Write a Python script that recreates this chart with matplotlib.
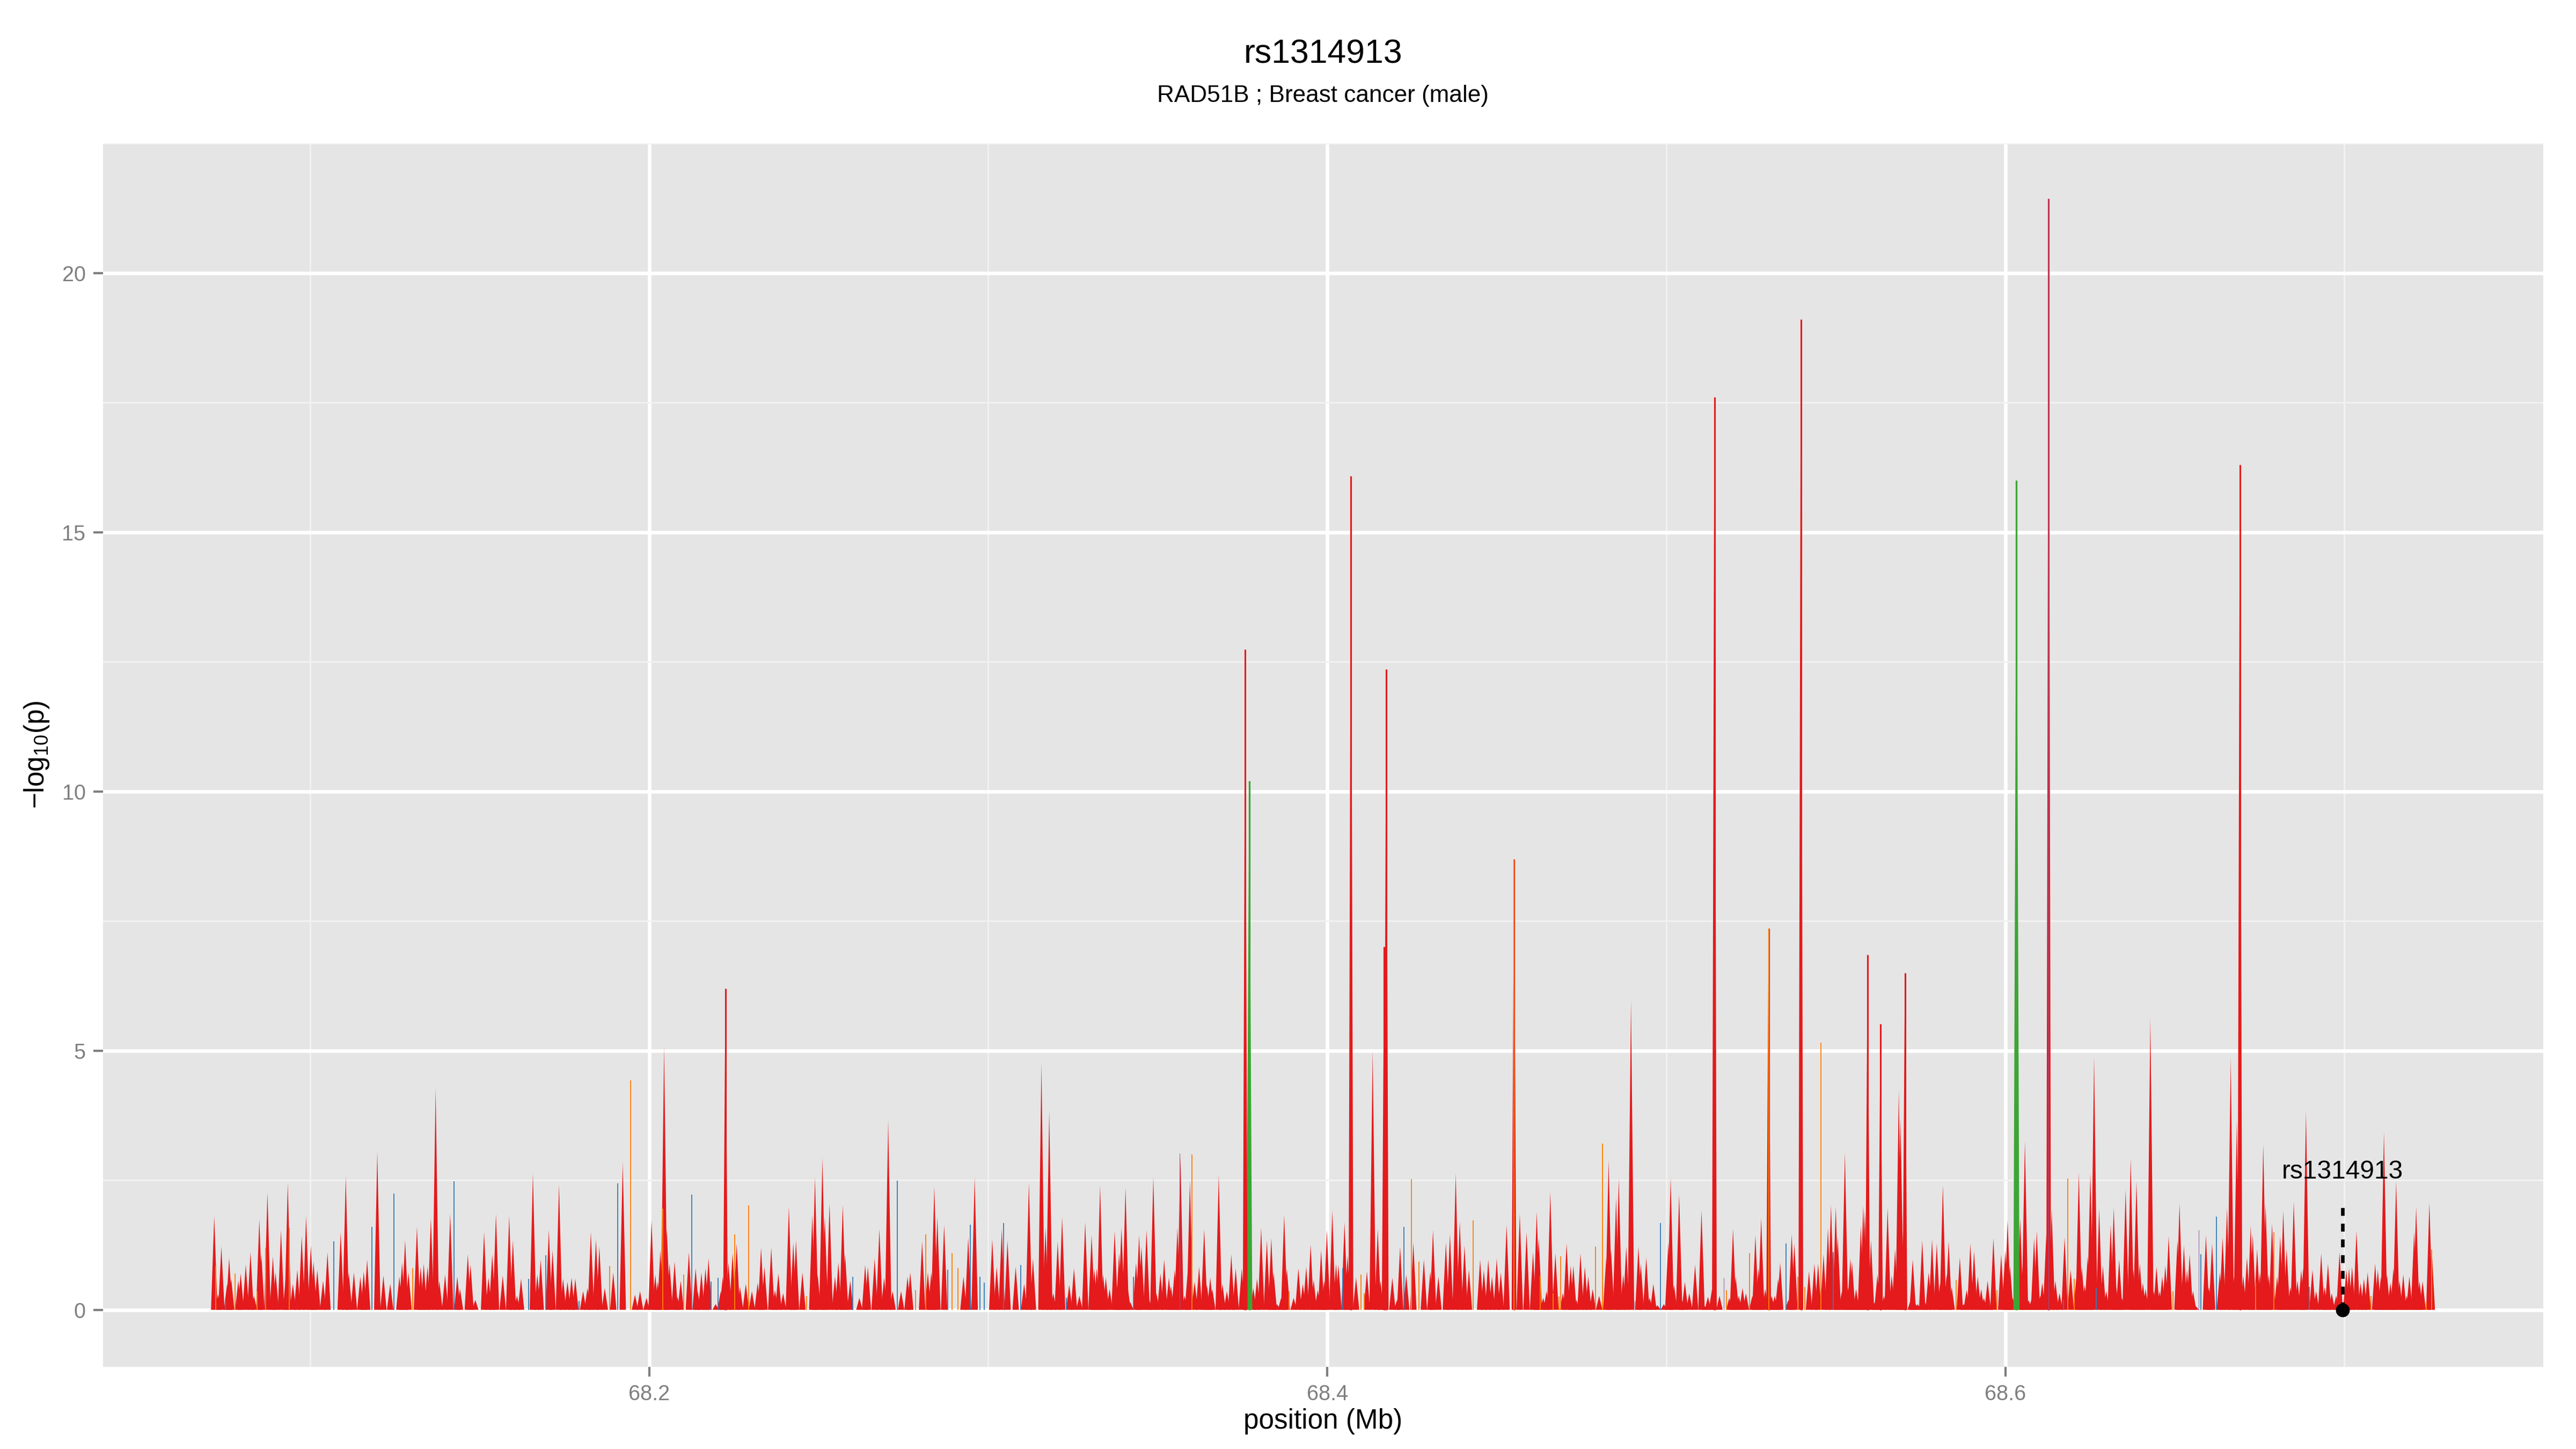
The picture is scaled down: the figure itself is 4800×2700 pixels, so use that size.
import numpy as np
import matplotlib
matplotlib.use("Agg")
import matplotlib.pyplot as plt
from matplotlib.collections import PolyCollection
from matplotlib.ticker import MultipleLocator

plt.rcParams['font.family'] = ['Liberation Sans', 'DejaVu Sans']
plt.rcParams['mathtext.fontset'] = 'custom'
plt.rcParams['mathtext.rm'] = 'Liberation Sans'
plt.rcParams['mathtext.it'] = 'Liberation Sans:italic'

# ---- data (position in Mb, -log10 p) ----
red_pos = [
    68.0717, 68.0728, 68.0738, 68.0755, 68.0761, 68.0767, 68.0788, 68.0795, 68.0810, 68.0824,
    68.0834, 68.0850, 68.0856, 68.0874, 68.0890, 68.0898, 68.0914, 68.0929, 68.0934, 68.0949,
    68.0962, 68.0975, 68.0988, 68.1002, 68.1010, 68.1021, 68.1038, 68.1051, 68.1090, 68.1105,
    68.1114, 68.1129, 68.1148, 68.1158, 68.1168, 68.1198, 68.1216, 68.1236, 68.1263, 68.1271,
    68.1280, 68.1290, 68.1315, 68.1326, 68.1335, 68.1346, 68.1356, 68.1370, 68.1381, 68.1398,
    68.1413, 68.1434, 68.1442, 68.1465, 68.1473, 68.1487, 68.1513, 68.1526, 68.1537, 68.1548,
    68.1568, 68.1587, 68.1598, 68.1610, 68.1622, 68.1657, 68.1670, 68.1680, 68.1704, 68.1715,
    68.1734, 68.1746, 68.1759, 68.1771, 68.1782, 68.1805, 68.1818, 68.1828, 68.1843, 68.1853,
    68.1869, 68.1894, 68.1922, 68.1958, 68.1973, 68.1992, 68.2007,
    68.2018, 68.2025, 68.2033, 68.2044, 68.2052, 68.2060, 68.2075, 68.2083, 68.2093, 68.2117,
    68.2137, 68.2143, 68.2154, 68.2166, 68.2175, 68.2196, 68.2211, 68.2217, 68.2234, 68.2246,
    68.2258, 68.2268, 68.2285, 68.2303, 68.2320, 68.2330, 68.2340, 68.2360, 68.2371, 68.2381,
    68.2395, 68.2412, 68.2425, 68.2433, 68.2452, 68.2481, 68.2489, 68.2497, 68.2511, 68.2518,
    68.2532, 68.2548, 68.2558, 68.2571, 68.2578, 68.2593, 68.2620, 68.2637, 68.2645, 68.2665,
    68.2679, 68.2693, 68.2705, 68.2718, 68.2743, 68.2762, 68.2770, 68.2805, 68.2822, 68.2832,
    68.2841, 68.2850, 68.2870, 68.2927, 68.2941, 68.2960, 68.3012, 68.3025, 68.3040, 68.3057,
    68.3081, 68.3106, 68.3120, 68.3132, 68.3157, 68.3169, 68.3180, 68.3192, 68.3205, 68.3218,
    68.3239, 68.3253, 68.3269, 68.3286, 68.3305,
    68.3313, 68.3320, 68.3330, 68.3339, 68.3347, 68.3358, 68.3373, 68.3380, 68.3386, 68.3393,
    68.3405, 68.3411, 68.3419, 68.3436, 68.3445, 68.3452, 68.3467, 68.3475, 68.3487, 68.3496,
    68.3508, 68.3519, 68.3533, 68.3539, 68.3550, 68.3558, 68.3567, 68.3579, 68.3589, 68.3595,
    68.3609, 68.3622, 68.3637, 68.3645, 68.3655, 68.3661, 68.3680, 68.3691, 68.3704, 68.3717,
    68.3730, 68.3748, 68.3782, 68.3793, 68.3805, 68.3822, 68.3835, 68.3842, 68.3852, 68.3864,
    68.3873, 68.3881, 68.3901, 68.3915, 68.3928, 68.3938, 68.3951, 68.3960, 68.3972, 68.3982,
    68.3991, 68.3999, 68.4015, 68.4026, 68.4033, 68.4051, 68.4060, 68.4085, 68.4117, 68.4134,
    68.4149, 68.4157, 68.4192, 68.4206, 68.4215, 68.4233, 68.4254, 68.4285, 68.4304, 68.4312,
    68.4328, 68.4350, 68.4362, 68.4379, 68.4391, 68.4405, 68.4418, 68.4451, 68.4462, 68.4475,
    68.4486, 68.4500, 68.4512, 68.4529, 68.4568, 68.4588, 68.4607,
    68.4618, 68.4624, 68.4637, 68.4647, 68.4658, 68.4673, 68.4695, 68.4706, 68.4718, 68.4726,
    68.4735, 68.4747, 68.4760, 68.4770, 68.4783, 68.4802, 68.4823, 68.4830, 68.4837, 68.4852,
    68.4860, 68.4873, 68.4882, 68.4896, 68.4918, 68.4925, 68.4941, 68.4951, 68.4962, 68.4974,
    68.4993, 68.5006, 68.5013, 68.5023, 68.5038, 68.5046, 68.5055, 68.5068, 68.5085, 68.5104,
    68.5114, 68.5123, 68.5135, 68.5157, 68.5186, 68.5197, 68.5205, 68.5214, 68.5225, 68.5235,
    68.5254, 68.5263, 68.5272, 68.5280, 68.5292, 68.5311, 68.5320, 68.5330, 68.5336, 68.5360,
    68.5370, 68.5378, 68.5421, 68.5437, 68.5448, 68.5464, 68.5477, 68.5486, 68.5500, 68.5506,
    68.5518, 68.5527, 68.5537, 68.5543, 68.5548, 68.5560, 68.5566, 68.5574, 68.5581, 68.5586,
    68.5604, 68.5615, 68.5623, 68.5642, 68.5653, 68.5665, 68.5675, 68.5686, 68.5691, 68.5695,
    68.5721, 68.5727, 68.5736, 68.5742, 68.5755, 68.5763, 68.5774, 68.5784, 68.5798, 68.5808,
    68.5816, 68.5827, 68.5833, 68.5842, 68.5866, 68.5877, 68.5886, 68.5897, 68.5908,
    68.5919, 68.5929, 68.5937, 68.5948, 68.5954, 68.5965, 68.5988, 68.6000, 68.6007, 68.6014,
    68.6022, 68.6044, 68.6052, 68.6058, 68.6069, 68.6077, 68.6085, 68.6093, 68.6103, 68.6109,
    68.6121, 68.6137, 68.6148, 68.6160, 68.6175, 68.6193, 68.6210, 68.6217, 68.6226, 68.6234,
    68.6243, 68.6251, 68.6262, 68.6277, 68.6288, 68.6298, 68.6311, 68.6320, 68.6327, 68.6336,
    68.6344, 68.6355, 68.6370, 68.6378, 68.6387, 68.6397, 68.6406, 68.6414, 68.6428, 68.6438,
    68.6446, 68.6455, 68.6463, 68.6472, 68.6482, 68.6508, 68.6514, 68.6527, 68.6536, 68.6544,
    68.6554, 68.6562, 68.6592, 68.6601, 68.6610, 68.6633, 68.6641, 68.6654, 68.6665, 68.6675,
    68.6683, 68.6702, 68.6713, 68.6724, 68.6730, 68.6743, 68.6751, 68.6761, 68.6768, 68.6777,
    68.6787, 68.6802, 68.6811, 68.6820, 68.6830, 68.6841, 68.6851, 68.6862, 68.6873, 68.6879,
    68.6887, 68.6906, 68.6917, 68.6932, 68.6942, 68.6952, 68.6963, 68.6976, 68.6986, 68.7006,
    68.7014, 68.7023, 68.7036, 68.7048, 68.7058, 68.7069, 68.7091, 68.7099, 68.7108, 68.7117,
    68.7126, 68.7136, 68.7145, 68.7153, 68.7163, 68.7174, 68.7184, 68.7192, 68.7206, 68.7212,
    68.7222, 68.7231, 68.7251, 68.7258,
]
red_logp = [
    1.81, 0.30, 1.22, 0.50, 1.00, 0.60, 0.56, 0.70, 0.87, 1.11,
    0.27, 1.75, 1.07, 2.27, 1.03, 0.72, 1.54, 0.72, 2.45, 0.50,
    0.77, 1.42, 1.81, 1.24, 0.93, 0.77, 0.56, 1.11, 1.50, 2.58,
    0.72, 0.72, 0.64, 0.74, 0.97, 3.05, 0.66, 0.50, 0.64, 0.91,
    1.34, 0.72, 1.60, 0.83, 0.89, 0.83, 1.77, 4.28, 0.56, 0.68,
    1.85, 0.64, 0.40, 1.07, 0.87, 0.19, 1.50, 0.62, 1.07, 1.85,
    0.66, 1.81, 1.34, 0.27, 0.60, 2.63, 0.68, 0.97, 1.54, 1.15,
    2.42, 0.60, 0.54, 0.62, 0.60, 0.36, 0.42, 1.50, 1.36, 1.22,
    0.42, 0.72, 2.85, 0.29, 0.36, 0.23, 1.73,
    0.68, 0.54, 1.15, 5.09, 1.56, 0.89, 0.93, 0.25, 0.56, 1.11,
    0.80, 0.36, 0.72, 0.80, 0.99, 0.11, 0.36, 0.64, 0.91, 1.09,
    1.28, 0.44, 0.50, 0.36, 0.52, 1.20, 0.83, 1.20, 0.38, 0.70,
    0.32, 1.99, 1.30, 1.34, 0.72, 1.83, 2.56, 0.68, 2.93, 1.79,
    2.05, 0.64, 0.91, 2.03, 1.07, 0.56, 0.23, 0.87, 0.83, 0.99,
    1.56, 0.62, 3.65, 0.36, 0.36, 0.64, 0.72, 1.32, 0.72, 0.72,
    2.38, 1.79, 1.64, 0.64, 1.40, 2.56, 1.36, 0.83, 1.56, 1.34,
    0.83, 0.50, 2.45, 0.99, 4.77, 1.58, 3.84, 0.32, 1.32, 1.79,
    0.48, 0.80, 0.27, 1.69, 1.44,
    0.79, 0.80, 2.40, 0.68, 0.62, 0.40, 1.52, 0.46, 1.09, 1.58,
    2.36, 0.46, 0.15, 0.91, 1.44, 1.22, 1.54, 0.19, 2.56, 0.32,
    0.70, 0.97, 0.62, 0.46, 0.77, 1.58, 2.97, 0.27, 0.77, 2.50,
    0.54, 0.83, 1.56, 0.48, 0.62, 0.40, 2.61, 0.50, 0.36, 1.07,
    0.80, 0.80, 0.42, 0.60, 1.58, 1.34, 1.38, 0.72, 0.11, 0.23,
    1.83, 0.79, 0.23, 0.80, 0.50, 0.83, 1.26, 0.58, 0.38, 1.15,
    0.56, 1.54, 1.91, 0.89, 0.87, 1.69, 1.05, 0.62, 0.74, 5.00,
    1.56, 0.56, 0.62, 0.19, 1.22, 0.68, 1.30, 0.97, 0.74, 1.54,
    0.64, 1.30, 1.46, 2.63, 1.71, 1.24, 0.77, 0.97, 0.77, 0.97,
    0.64, 0.99, 0.72, 1.64, 1.85, 1.50, 1.11,
    1.89, 1.38, 0.23, 0.36, 2.28, 1.09, 0.32, 1.28, 0.85, 0.85,
    0.19, 1.09, 0.83, 0.64, 0.40, 0.27, 1.01, 2.89, 1.17, 2.16,
    2.53, 0.68, 1.22, 5.97, 1.22, 0.89, 1.01, 0.23, 0.50, 0.09,
    0.11, 1.30, 2.55, 0.48, 2.23, 0.19, 0.54, 0.32, 0.87, 1.92,
    0.07, 0.25, 0.40, 0.27, 0.23, 1.56, 0.64, 0.27, 0.42, 0.32,
    0.27, 1.44, 0.80, 1.77, 0.40, 0.27, 0.27, 0.60, 0.91, 0.19,
    1.46, 1.28, 0.74, 0.89, 0.89, 1.07, 1.58, 2.03, 1.99, 1.40,
    0.36, 3.04, 0.44, 0.99, 0.93, 0.40, 0.19, 1.62, 2.01, 1.91,
    1.34, 0.15, 0.68, 0.27, 1.97, 0.66, 1.17, 4.24, 3.70, 1.91,
    0.19, 0.97, 0.11, 0.11, 1.34, 0.15, 0.72, 1.36, 1.28, 0.52,
    2.41, 0.68, 1.32, 0.44, 1.01, 0.11, 0.38, 1.28, 1.13,
    0.64, 0.40, 0.23, 0.56, 0.07, 1.38, 1.07, 1.15, 1.73, 0.85,
    0.23, 1.75, 0.90, 3.26, 0.19, 0.19, 1.38, 1.52, 0.27, 0.52,
    1.46, 1.93, 0.56, 0.32, 1.40, 0.77, 0.64, 2.65, 0.83, 0.48,
    1.03, 2.64, 4.88, 1.95, 0.85, 0.36, 1.64, 1.97, 0.44, 0.97,
    0.23, 2.32, 2.93, 0.77, 2.48, 0.89, 0.52, 0.40, 5.64, 0.36,
    0.83, 0.36, 0.64, 0.85, 1.42, 1.34, 2.05, 1.24, 0.77, 1.07,
    0.36, 0.07, 1.44, 0.44, 1.28, 0.72, 1.40, 1.97, 4.86, 0.64,
    3.65, 0.66, 1.01, 1.62, 1.46, 1.17, 0.72, 3.19, 2.03, 0.68,
    1.67, 0.64, 1.42, 1.91, 1.17, 0.44, 2.09, 0.56, 0.77, 0.80,
    3.83, 0.77, 0.36, 1.09, 0.44, 0.89, 0.32, 0.27, 1.11, 0.77,
    0.80, 0.83, 1.52, 0.52, 0.60, 0.72, 0.89, 0.77, 0.64, 3.43,
    0.68, 0.52, 0.80, 2.48, 0.56, 0.68, 0.27, 0.64, 1.50, 1.98,
    0.55, 0.55, 2.07, 1.17,
]

# strongest signals (drawn as needles)
peak_pos = [68.2225, 68.3758, 68.4070, 68.4168, 68.4174, 68.4551, 68.5142,
            68.5302, 68.5397, 68.5594, 68.5632, 68.5704, 68.6128, 68.6692]
peak_logp = [6.20, 12.74, 16.08, 7.00, 12.36, 8.69, 17.60,
             7.36, 19.10, 6.85, 5.51, 6.50, 21.43, 16.30]

green_pos = [68.3770, 68.6033]
green_logp = [10.2, 16.0]

orange_pos = [68.0722, 68.0778, 68.0844, 68.0868, 68.0939, 68.1303, 68.1884, 68.1945,
              68.2040, 68.2102, 68.2252, 68.2293, 68.2465, 68.2785, 68.2815, 68.2893,
              68.2910, 68.3601, 68.3888, 68.4100, 68.4109, 68.4248, 68.4270, 68.4430,
              68.4551, 68.4629, 68.4666, 68.4683, 68.4688, 68.4791, 68.4812, 68.5178,
              68.5246, 68.5302, 68.5388, 68.5409, 68.5456, 68.5855, 68.5976, 68.6185,
              68.6203, 68.6495, 68.6739, 68.6792, 68.7079, 68.7242, 68.7258]
orange_logp = [0.85, 0.70, 0.36, 1.20, 1.58, 0.80, 0.85, 4.43,
               1.95, 0.68, 1.46, 2.01, 0.27, 0.38, 1.46, 1.09,
               0.80, 3.00, 0.36, 0.68, 0.32, 2.52, 0.93, 1.73,
               8.69, 0.66, 0.32, 0.25, 1.03, 1.22, 3.21, 0.38,
               1.09, 7.36, 0.64, 0.44, 5.15, 0.58, 0.38, 2.53,
               0.60, 0.36, 0.52, 1.50, 0.27, 0.14, 1.17]

blue_pos = [68.0750, 68.1070, 68.1182, 68.1247, 68.1424, 68.1644, 68.1695, 68.1793,
            68.1907, 68.2126, 68.2182, 68.2203, 68.2600, 68.2732, 68.2880, 68.2947,
            68.2976, 68.2989, 68.3046, 68.3096, 68.3231, 68.3428, 68.4045, 68.4226,
            68.4983, 68.5353, 68.5493, 68.6171, 68.6269, 68.6577, 68.6623, 68.6896]
blue_logp = [0.17, 1.32, 1.60, 2.24, 2.48, 0.60, 1.05, 0.17,
             2.44, 2.22, 0.54, 0.62, 0.64, 2.49, 0.77, 1.64,
             0.64, 0.52, 1.67, 0.87, 0.23, 0.64, 0.80, 1.60,
             1.67, 1.28, 1.11, 0.19, 0.42, 1.07, 1.80, 0.44]

purple_pos = [68.3564, 68.4907, 68.5169, 68.6571, 68.6128]
purple_logp = [3.02, 0.17, 0.62, 1.54, 21.43]

snp_name = 'rs1314913'
snp_pos = 68.6995
snp_label_y = 2.53
snp_line_top = 2.12

RED = '#E41A1C'
GREEN = '#3DA535'
ORANGE = '#FF7F00'
BLUE = '#377EB8'
PURPLE = '#8E5AA0'


def spikes(pos, logp, half):
    return [[(p - half, 0.0), (p, v), (p + half, 0.0)] for p, v in zip(pos, logp)]


fig = plt.figure(figsize=(16, 9), dpi=300)
ax = fig.add_axes([0.04, 0.0567, 0.9473, 0.8444])
ax.set_facecolor('#E5E5E5')
for s in ax.spines.values():
    s.set_visible(False)

ax.add_collection(PolyCollection(spikes(red_pos, red_logp, 0.00095), facecolors=RED,
                                 edgecolors='none', linewidths=0, zorder=2))
ax.add_collection(PolyCollection(spikes(green_pos, green_logp, 0.0009), facecolors=GREEN,
                                 edgecolors='none', linewidths=0, zorder=3))
ax.vlines(green_pos, 0, green_logp, colors=GREEN, linewidth=0.8, zorder=3)
ax.add_collection(PolyCollection(spikes(peak_pos, peak_logp, 0.0007), facecolors=RED,
                                 edgecolors='none', linewidths=0, zorder=3))
ax.vlines(peak_pos, 0, peak_logp, colors=RED, linewidth=0.75, zorder=3)
ax.vlines(orange_pos, 0, orange_logp, colors=ORANGE, linewidth=0.45, zorder=4)
ax.vlines(blue_pos, 0, blue_logp, colors=BLUE, linewidth=0.45, zorder=4)
ax.vlines(purple_pos, 0, purple_logp, colors=PURPLE, linewidth=0.3, alpha=0.8, zorder=4)

# highlighted SNP
ax.plot([snp_pos, snp_pos], [0, snp_line_top], color='black', lw=1.6,
        dashes=(2.2, 2.2), zorder=6)
ax.plot([snp_pos], [0], 'o', color='black', markersize=5.2, zorder=7)
ax.text(snp_pos, snp_label_y, snp_name, ha='center', va='baseline', fontsize=11.5,
        color='black', zorder=7)

ax.set_xlim(68.0389, 68.7587)
ax.set_ylim(-1.1, 22.5)
ax.xaxis.set_major_locator(MultipleLocator(0.2))
ax.xaxis.set_minor_locator(MultipleLocator(0.1))
ax.yaxis.set_major_locator(MultipleLocator(5))
ax.yaxis.set_minor_locator(MultipleLocator(2.5))
ax.set_xticks([68.2, 68.4, 68.6])
ax.set_xticklabels(['68.2', '68.4', '68.6'])
ax.set_axisbelow(True)
ax.grid(which='major', color='white', linewidth=1.6)
ax.grid(which='minor', color='#F2F2F2', linewidth=0.7)
ax.tick_params(which='major', length=4.3, width=1.0, color='#7F7F7F',
               labelcolor='#7F7F7F', labelsize=9.5, pad=3.5)
ax.tick_params(which='minor', length=0)

cx = 0.5136
fig.text(cx, 0.9626, 'rs1314913', ha='center', va='center', fontsize=15)
fig.text(cx, 0.934, 'RAD51B ; Breast cancer (male)', ha='center', va='center', fontsize=10.6)
fig.text(cx, 0.0189, 'position (Mb)', ha='center', va='center', fontsize=12.3)
fig.text(0.0142, 0.479, '\u2212log$_{10}$(p)', ha='center', va='center', fontsize=12.3,
         rotation=90)

fig.savefig('out.png', dpi=300)
